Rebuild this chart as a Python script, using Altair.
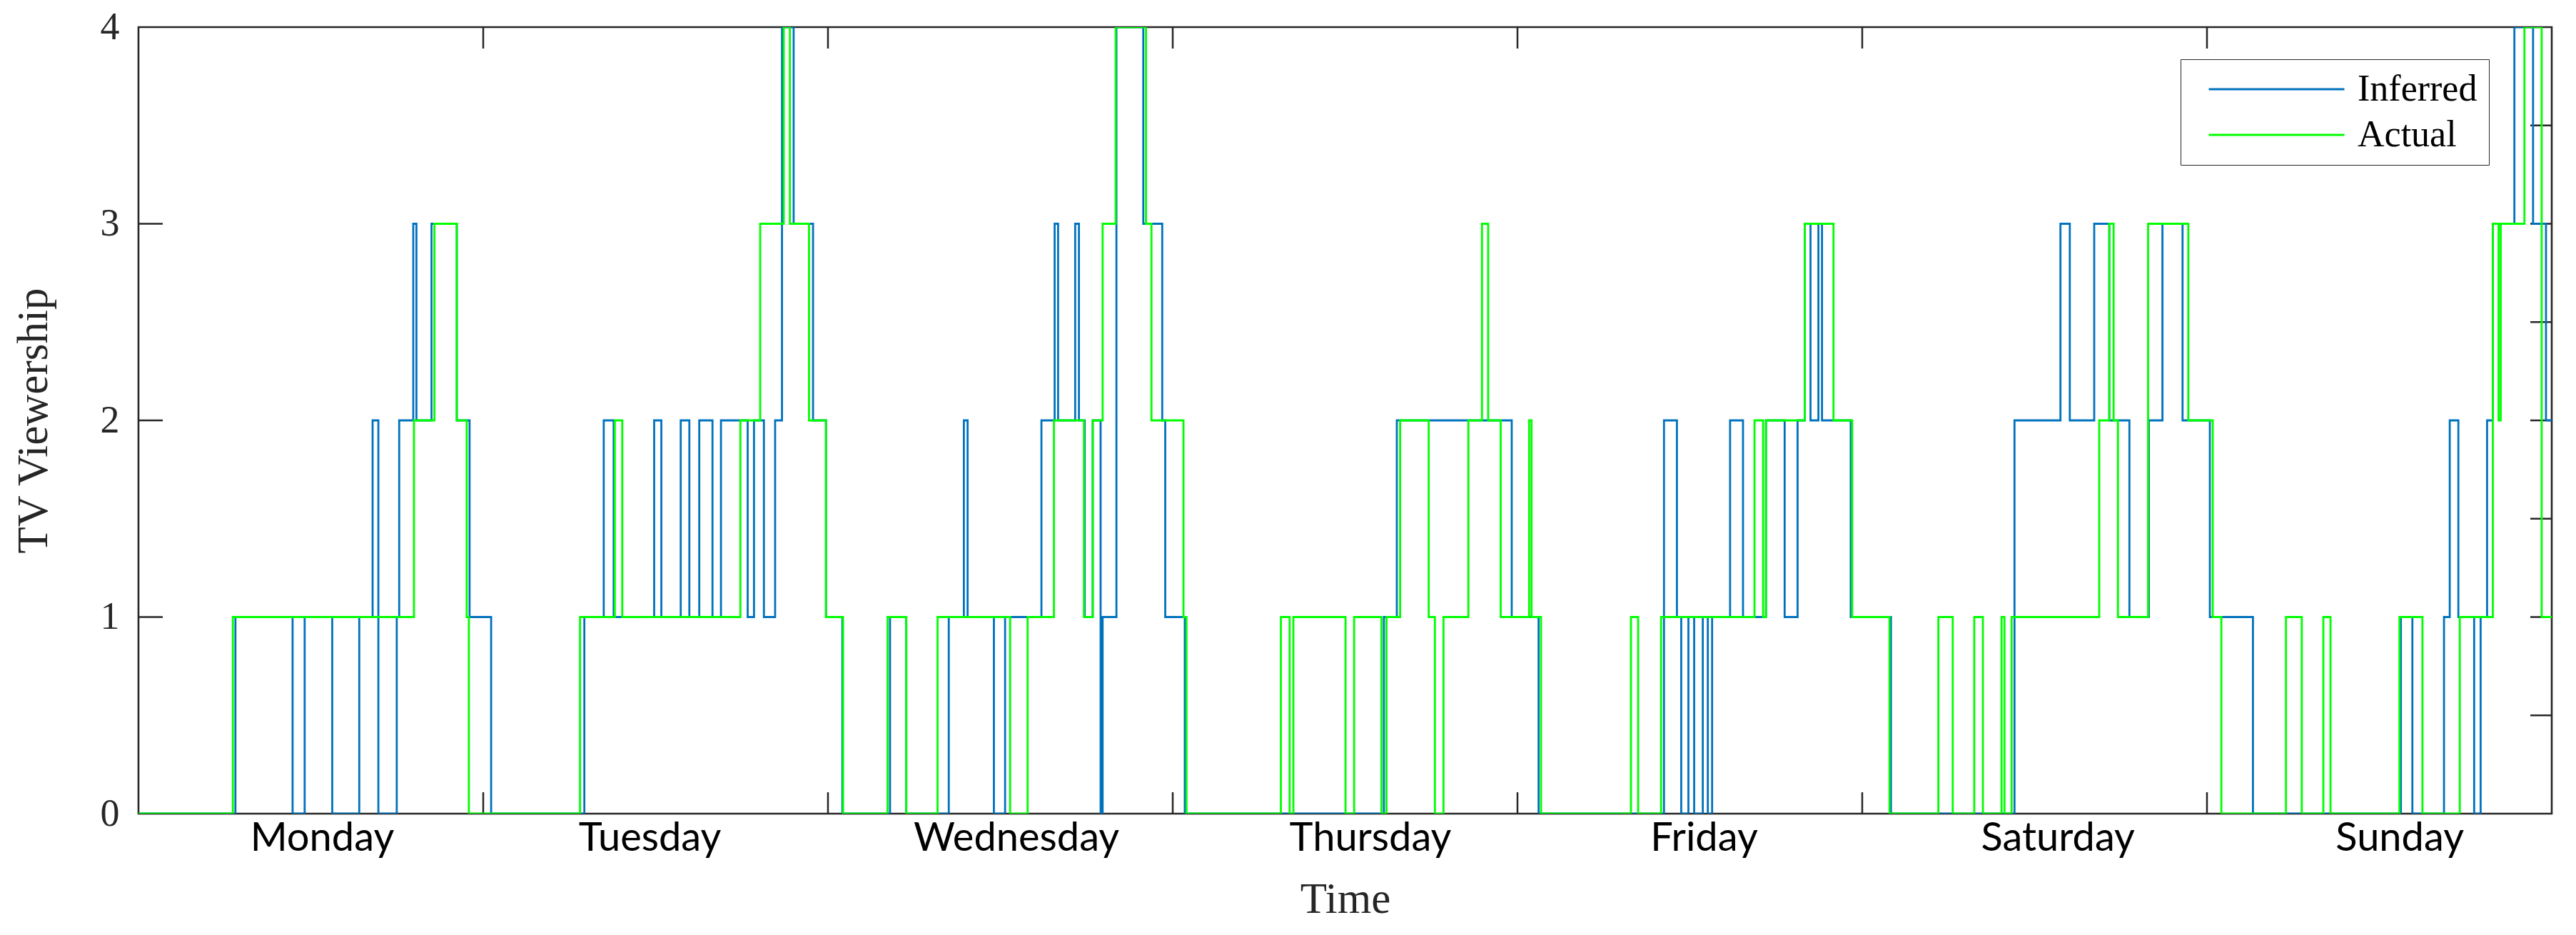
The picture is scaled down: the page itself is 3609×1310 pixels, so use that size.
import altair as alt
import pandas as pd

# ---- data: change points (hour of week, viewer count), step-after ----
inferred_t = [0, 6.75, 10.73, 11.57, 13.49, 15.37, 16.30, 16.70, 17.98, 18.15, 19.13, 19.35, 20.40, 22.16, 23.05, 24.55,
              31.04, 32.39, 33.08, 35.9, 36.4, 37.75, 38.35, 39.04, 39.96, 40.55, 42.41, 42.85, 43.54, 44.32, 44.8, 45.61, 46.96, 47.86, 49.0,
              52.32, 53.45, 56.41, 57.46, 57.72, 59.55, 60.33, 62.86, 63.78, 64.02, 65.21, 65.47, 65.87, 66.43, 66.98, 67.12, 68.08, 69.95, 71.27, 71.48, 72.84,
              86.7, 87.6, 95.6, 97.47,
              106.2, 107.1, 107.4, 107.9, 108.3, 108.9, 109.25, 109.55, 110.8, 111.7, 113.3, 114.6, 115.5, 116.0, 116.4, 116.95, 117.2, 119.2, 122.0,
              130.6, 133.8, 134.45, 136.15, 137.2, 138.6, 139.95, 140.9, 142.3, 144.2, 147.2,
              157.5, 158.3, 160.5, 160.9, 161.5, 162.6, 163.05, 163.5, 163.9, 165.4, 166.7, 167.6, 168]
inferred_v = [0, 1, 0, 1, 0, 1, 2, 0, 1, 2, 3, 2, 3, 2, 1, 0,
              1, 2, 1, 2, 1, 2, 1, 2, 1, 2, 1, 2, 1, 2, 4, 3, 2, 1, 0,
              1, 0, 1, 2, 1, 0, 1, 2, 3, 2, 3, 2, 1, 2, 0, 1, 4, 3, 2, 1, 0,
              1, 2, 1, 0,
              2, 1, 0, 1, 0, 1, 0, 1, 2, 1, 2, 1, 2, 3, 2, 3, 2, 1, 0,
              2, 3, 2, 3, 2, 1, 2, 3, 2, 1, 0,
              1, 0, 1, 2, 1, 0, 1, 2, 3, 4, 3, 2, 2]

actual_t = [0, 6.57, 19.18, 20.6, 22.16, 22.85, 23.0,
            30.74, 33.16, 33.68, 41.9, 43.28, 44.92, 45.35, 46.68, 47.86, 49.05,
            52.15, 53.45, 55.63, 60.68, 61.9, 63.73, 65.82, 66.43, 67.12, 68.03, 70.14, 70.52, 72.75, 72.96,
            79.53, 80.14, 80.4, 84.03, 84.63, 86.53, 86.88, 87.83, 89.82, 90.25, 90.85, 92.58, 93.53, 93.96, 94.83, 96.81, 96.98, 97.64,
            103.9, 104.4, 106.0, 112.5, 113.1, 113.3, 116.0, 118.0, 119.3, 121.9,
            125.3, 126.3, 127.8, 128.4, 129.7, 129.9, 130.4, 136.5, 137.2, 137.5, 137.8, 139.9, 142.7, 144.4, 145.0,
            149.5, 150.6, 152.1, 152.6, 157.4, 159.0, 161.6, 163.9, 164.3, 164.45, 166.1, 167.3, 168]
actual_v = [0, 1, 2, 3, 2, 1, 0,
            1, 2, 1, 2, 3, 4, 3, 2, 1, 0,
            1, 0, 1, 0, 1, 2, 1, 2, 3, 4, 3, 2, 1, 0,
            1, 0, 1, 0, 1, 0, 1, 2, 1, 0, 1, 2, 3, 2, 1, 2, 1, 0,
            1, 0, 1, 2, 1, 2, 3, 2, 1, 0,
            1, 0, 1, 0, 1, 0, 1, 2, 3, 2, 1, 3, 2, 1, 0,
            1, 0, 1, 0, 1, 0, 1, 3, 2, 3, 4, 1, 1]

series_names = ["Inferred", "Actual"]
series_colors = ["#0072BD", "#00FF00"]

day_names = ["Monday", "Tuesday", "Wednesday", "Thursday", "Friday", "Saturday", "Sunday"]
day_label_pos = [12.77, 35.58, 61.1, 85.74, 108.97, 133.6, 157.4]
y_tick_values = [0, 1, 2, 3, 4]
left_tick_marks = [1, 2, 3]
right_tick_marks = [0.5, 1, 1.5, 2, 2.5, 3, 3.5]
day_boundaries = [24, 48, 72, 96, 120, 144]

# ---- layout / style ----
W, H = 3381, 1102
INK = "#262626"
SERIF = "Liberation Serif"

inf_df = pd.DataFrame({"hour": inferred_t, "count": inferred_v, "series": "Inferred"})
act_df = pd.DataFrame({"hour": actual_t, "count": actual_v, "series": "Actual"})

x_scale = alt.Scale(domain=[0, 168], nice=False, zero=False)
y_scale = alt.Scale(domain=[0, 4], nice=False)

label_expr = "[" + ",".join("'%s'" % d for d in day_names) + "][floor(datum.value/24)]"

x_axis = alt.Axis(values=day_label_pos, labelExpr=label_expr, ticks=False, tickSize=0, domain=False,
                  grid=False, labelFont="Lato", labelFontSize=56, labelColor="black", labelPadding=7,
                  labelLimit=0, labelFlush=False, labelOverlap=False,
                  title="Time", titleFont=SERIF, titleFontSize=61, titleFontWeight="normal",
                  titleColor=INK, titleX=W / 2, titleY=138, titleBaseline="alphabetic", titleAlign="center")
y_axis = alt.Axis(values=y_tick_values, ticks=False, tickSize=0, domain=False, grid=False,
                  labelFont=SERIF, labelFontSize=54, labelColor=INK, labelPadding=27, labelLimit=0,
                  title="TV Viewership", titleFont=SERIF, titleFontSize=61, titleFontWeight="normal",
                  titleColor=INK, titleX=-129, titleY=H / 2, titleBaseline="alphabetic", titleAlign="center",
                  titleAngle=270, titleLimit=0)

color = alt.Color("series:N", scale=alt.Scale(domain=series_names, range=series_colors),
                  legend=alt.Legend(orient="none", legendX=3055 - 194, legendY=83 - 38, title=None,
                                    symbolType="stroke", symbolSize=190 * 190, symbolStrokeWidth=3,
                                    clipHeight=52, labelLimit=0,
                                    labelFont=SERIF, labelFontSize=52, labelColor="black",
                                    padding=16, symbolOffset=22, rowPadding=12, labelOffset=17,
                                    strokeColor=INK, fillColor="white", direction="vertical"))


def xenc():
    return alt.X("hour:Q", scale=x_scale, axis=x_axis)


def yenc():
    return alt.Y("count:Q", scale=y_scale, axis=y_axis)


inf_line = alt.Chart(inf_df).mark_line(interpolate="step-after", strokeWidth=2.8, clip=True).encode(
    x=xenc(), y=yenc(), color=color)
act_line = alt.Chart(act_df).mark_line(interpolate="step-after", strokeWidth=2.8, clip=True).encode(
    x=xenc(), y=yenc(), color=color)

left_ticks = alt.Chart(pd.DataFrame({"count": left_tick_marks})).mark_rule(color=INK, strokeWidth=2.5).encode(
    y=yenc(), x=alt.value(0), x2=alt.value(34))
right_ticks = alt.Chart(pd.DataFrame({"count": right_tick_marks})).mark_rule(color=INK, strokeWidth=2.5).encode(
    y=yenc(), x=alt.value(W - 30), x2=alt.value(W))
bottom_ticks = alt.Chart(pd.DataFrame({"hour": day_boundaries})).mark_rule(color=INK, strokeWidth=2.5).encode(
    x=xenc(), y=alt.value(H - 30), y2=alt.value(H))
top_ticks = alt.Chart(pd.DataFrame({"hour": day_boundaries})).mark_rule(color=INK, strokeWidth=2.5).encode(
    x=xenc(), y=alt.value(0), y2=alt.value(30))

chart = alt.layer(left_ticks, right_ticks, bottom_ticks, top_ticks, inf_line, act_line).properties(
    width=W, height=H,
    padding={"left": 186, "top": 30, "right": 20, "bottom": 150},
    autosize=alt.AutoSizeParams(type="none"),
    background="white",
).configure_view(stroke=INK, strokeWidth=2.6)

chart.save("out.html", embed_options={"renderer": "svg", "actions": False})
